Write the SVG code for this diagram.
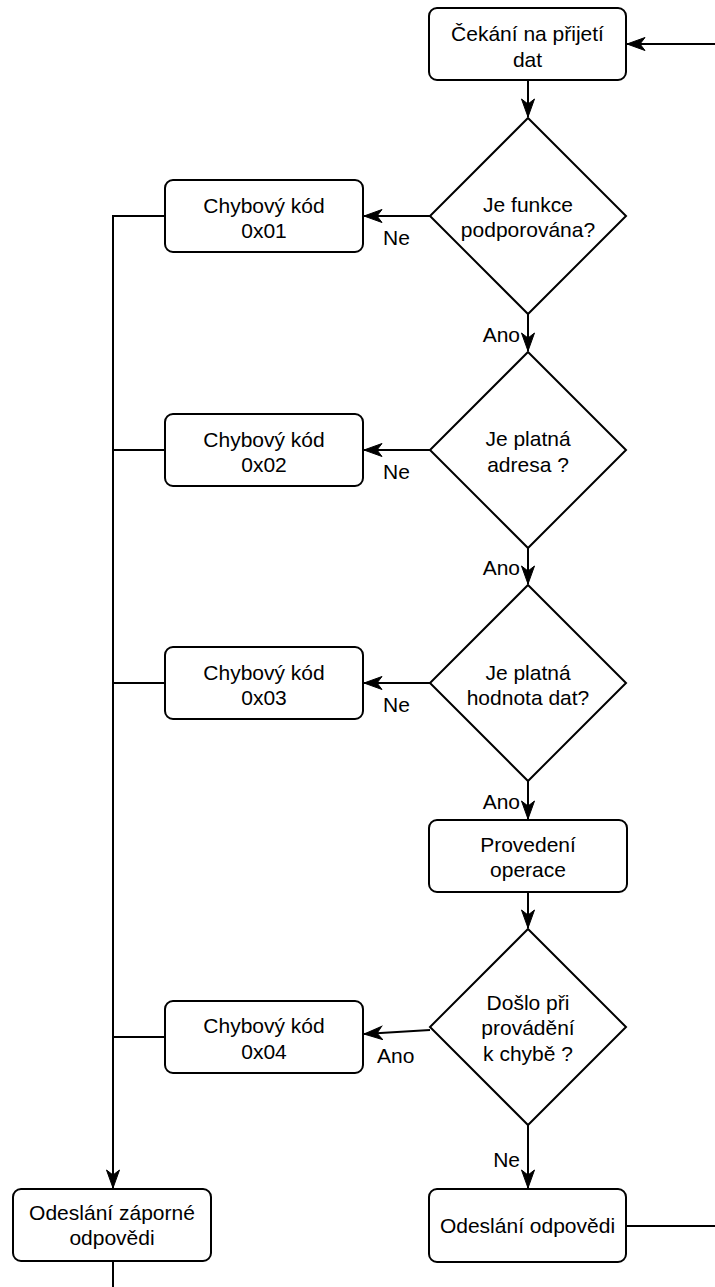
<svg xmlns="http://www.w3.org/2000/svg" width="715" height="1287" viewBox="0 0 715 1287">
<style>
.n{fill:#fff;stroke:#000;stroke-width:2}
.t{font-family:"Liberation Sans",Arial,sans-serif;font-size:21px;fill:#000;text-anchor:middle}
.l{font-family:"Liberation Sans",Arial,sans-serif;font-size:21px;fill:#000}
.c{fill:none;stroke:#000;stroke-width:2}
</style>
<defs>
<marker id="arr" markerUnits="userSpaceOnUse" markerWidth="20" markerHeight="16" viewBox="0 0 20 16" refX="19" refY="8" orient="auto">
<path d="M1,1.5 L19,8 L1,14.5 L6,8 Z" fill="#000" stroke="#000" stroke-width="1"/>
</marker>
</defs>
<rect width="715" height="1287" fill="#fff"/>
<g id="connectors">
<path class="c" d="M715,44 L627,44" marker-end="url(#arr)"/>
<path class="c" d="M528,80 L528,117" marker-end="url(#arr)"/>
<path class="c" d="M430,216 L364,216" marker-end="url(#arr)"/>
<path class="c" d="M528,314 L528,351" marker-end="url(#arr)"/>
<path class="c" d="M430,450 L364,450" marker-end="url(#arr)"/>
<path class="c" d="M528,548 L528,584" marker-end="url(#arr)"/>
<path class="c" d="M430,683 L364,683" marker-end="url(#arr)"/>
<path class="c" d="M528,781 L528,819" marker-end="url(#arr)"/>
<path class="c" d="M528,892 L528,928" marker-end="url(#arr)"/>
<path class="c" d="M430,1030 L364,1034" marker-end="url(#arr)"/>
<path class="c" d="M528,1125 L528,1188" marker-end="url(#arr)"/>
<path class="c" d="M626,1226 L715,1226"/>
<path class="c" d="M165,216 L113,216 L113,1188" marker-end="url(#arr)"/>
<path class="c" d="M165,450 L113,450"/>
<path class="c" d="M165,683 L113,683"/>
<path class="c" d="M165,1037 L113,1037"/>
<path class="c" d="M113,1261 L113,1287"/>
<text class="l" x="383" y="245">Ne</text>
<text class="l" x="383" y="479">Ne</text>
<text class="l" x="383" y="712">Ne</text>
<text class="l" x="377" y="1063">Ano</text>
<text class="l" x="520" y="342" text-anchor="end">Ano</text>
<text class="l" x="520" y="575" text-anchor="end">Ano</text>
<text class="l" x="520" y="809" text-anchor="end">Ano</text>
<text class="l" x="520" y="1167" text-anchor="end">Ne</text>
</g>
<g id="cekani">
<rect class="n" x="429" y="8" width="197" height="72" rx="8"/>
<text class="t" x="527.5" y="41">Čekání na přijetí</text>
<text class="t" x="527.5" y="67">dat</text>
</g>
<g id="d1">
<polygon class="n" points="528,118 626,216 528,314 430,216"/>
<text class="t" x="528" y="212">Je funkce</text>
<text class="t" x="528" y="237">podporována?</text>
</g>
<g id="e1">
<rect class="n" x="165" y="180" width="198" height="72" rx="8"/>
<text class="t" x="264" y="213">Chybový kód</text>
<text class="t" x="264" y="238">0x01</text>
</g>
<g id="d2">
<polygon class="n" points="528,352 626,450 528,548 430,450"/>
<text class="t" x="528" y="446">Je platná</text>
<text class="t" x="528" y="472">adresa ?</text>
</g>
<g id="e2">
<rect class="n" x="165" y="414" width="198" height="72" rx="8"/>
<text class="t" x="264" y="447">Chybový kód</text>
<text class="t" x="264" y="472">0x02</text>
</g>
<g id="d3">
<polygon class="n" points="528,585 626,683 528,781 430,683"/>
<text class="t" x="528" y="680">Je platná</text>
<text class="t" x="528" y="705">hodnota dat?</text>
</g>
<g id="e3">
<rect class="n" x="165" y="647" width="198" height="72" rx="8"/>
<text class="t" x="264" y="680">Chybový kód</text>
<text class="t" x="264" y="705">0x03</text>
</g>
<g id="provedeni">
<rect class="n" x="429" y="820" width="198" height="72" rx="8"/>
<text class="t" x="528" y="852">Provedení</text>
<text class="t" x="528" y="877">operace</text>
</g>
<g id="d4">
<polygon class="n" points="528,929 626,1027 528,1125 430,1027"/>
<text class="t" x="528" y="1010">Došlo při</text>
<text class="t" x="528" y="1035">provádění</text>
<text class="t" x="528" y="1061">k chybě ?</text>
</g>
<g id="e4">
<rect class="n" x="165" y="1001" width="198" height="72" rx="8"/>
<text class="t" x="264" y="1033">Chybový kód</text>
<text class="t" x="264" y="1059">0x04</text>
</g>
<g id="zaporna">
<rect class="n" x="13" y="1189" width="198" height="72" rx="8"/>
<text class="t" x="112" y="1220">Odeslání záporné</text>
<text class="t" x="112" y="1245">odpovědi</text>
</g>
<g id="odpoved">
<rect class="n" x="429" y="1189" width="197" height="73" rx="8"/>
<text class="t" x="527.5" y="1233">Odeslání odpovědi</text>
</g>
</svg>
